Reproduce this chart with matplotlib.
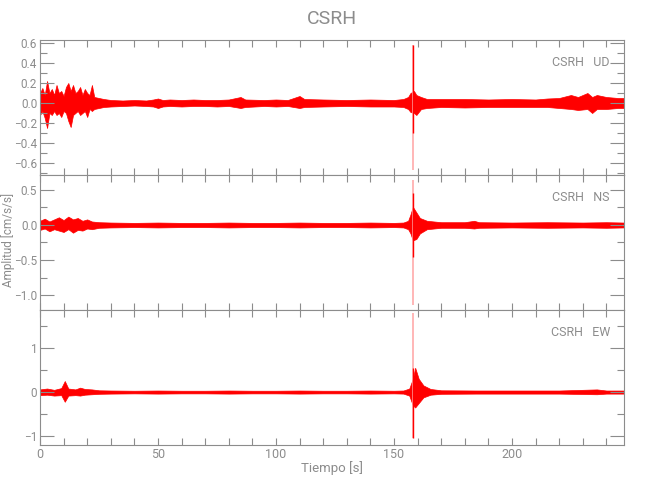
import matplotlib
matplotlib.use('Agg')
import matplotlib.pyplot as plt
from matplotlib.ticker import MultipleLocator, FuncFormatter

plt.rcParams['font.family'] = ['Roboto', 'DejaVu Sans']

GRIS = '#8c8c8c'
ROJO = '#ff0000'
ROSA = '#ffaaaa'

estacion = 'CSRH'
componentes = ['UD', 'NS', 'EW']
t_max = 247.5

t_ud = [0, 1, 2, 3, 4, 5, 6, 7, 8, 9, 10, 11, 12, 13, 14, 15, 16, 17, 18, 19, 20, 21, 22, 23, 25, 27,
        30, 35, 40, 45, 48, 50, 52, 55, 60, 65, 70, 75, 80, 85, 87, 95, 100, 105, 110, 112, 120, 130,
        140, 150, 154, 156, 157, 158.5, 159.5, 161.5, 164, 170, 180, 190, 200, 210, 215, 220, 225, 228,
        232, 234, 236, 240, 245, 247.5]
max_ud = [0.10, 0.15, 0.08, 0.22, 0.10, 0.14, 0.08, 0.18, 0.10, 0.12, 0.07, 0.16, 0.20, 0.12, 0.18,
          0.10, 0.12, 0.16, 0.08, 0.14, 0.10, 0.08, 0.18, 0.06, 0.05, 0.04, 0.03, 0.025, 0.03, 0.025,
          0.035, 0.045, 0.03, 0.035, 0.03, 0.035, 0.03, 0.03, 0.035, 0.06, 0.035, 0.03, 0.035, 0.03,
          0.07, 0.04, 0.035, 0.03, 0.035, 0.03, 0.04, 0.06, 0.10, 0.12, 0.08, 0.06, 0.04, 0.04, 0.04,
          0.035, 0.04, 0.035, 0.045, 0.05, 0.08, 0.06, 0.10, 0.06, 0.08, 0.06, 0.05, 0.05]
min_ud = [-0.12, -0.08, -0.15, -0.25, -0.10, -0.12, -0.08, -0.12, -0.10, -0.14, -0.08, -0.10, -0.18,
          -0.24, -0.12, -0.10, -0.08, -0.12, -0.10, -0.08, -0.14, -0.06, -0.08, -0.06, -0.05, -0.04,
          -0.035, -0.03, -0.025, -0.03, -0.035, -0.05, -0.035, -0.03, -0.035, -0.03, -0.03, -0.035,
          -0.03, -0.05, -0.04, -0.03, -0.035, -0.03, -0.05, -0.04, -0.035, -0.03, -0.035, -0.035,
          -0.04, -0.06, -0.09, -0.10, -0.12, -0.06, -0.05, -0.04, -0.045, -0.04, -0.04, -0.04, -0.04,
          -0.05, -0.06, -0.07, -0.06, -0.10, -0.06, -0.06, -0.05, -0.05]

t_ns = [0, 2, 4, 6, 8, 10, 12, 14, 16, 18, 20, 22, 25, 30, 40, 50, 60, 70, 80, 90, 100, 110, 120,
        130, 140, 150, 154, 156, 157, 158, 159.5, 161, 164, 170, 180, 184, 186, 200, 215, 230,
        240, 247.5]
max_ns = [0.06, 0.09, 0.05, 0.08, 0.11, 0.07, 0.12, 0.08, 0.10, 0.06, 0.08, 0.05, 0.04, 0.035, 0.03,
          0.035, 0.03, 0.03, 0.035, 0.03, 0.03, 0.035, 0.03, 0.03, 0.035, 0.03, 0.035, 0.06, 0.15,
          0.26, 0.18, 0.10, 0.06, 0.04, 0.04, 0.06, 0.04, 0.035, 0.04, 0.035, 0.04, 0.035]
min_ns = [-0.07, -0.05, -0.09, -0.06, -0.08, -0.10, -0.06, -0.11, -0.07, -0.08, -0.05, -0.06, -0.04,
          -0.035, -0.03, -0.035, -0.03, -0.03, -0.035, -0.03, -0.03, -0.035, -0.03, -0.03, -0.035,
          -0.03, -0.035, -0.06, -0.12, -0.22, -0.20, -0.12, -0.06, -0.04, -0.04, -0.05, -0.04,
          -0.035, -0.04, -0.035, -0.04, -0.035]

t_ew = [0, 3, 6, 9, 10.5, 12, 15, 17, 19, 22, 25, 30, 40, 50, 60, 70, 80, 90, 100, 110, 120, 130,
        140, 150, 154, 156.5, 158, 159, 160.5, 162.5, 165.5, 170, 185, 200, 220, 236, 240, 247.5]
max_ew = [0.06, 0.08, 0.05, 0.09, 0.25, 0.08, 0.06, 0.10, 0.07, 0.06, 0.04, 0.035, 0.03, 0.035, 0.03,
          0.03, 0.035, 0.03, 0.03, 0.035, 0.03, 0.03, 0.035, 0.03, 0.035, 0.08, 0.30, 0.55, 0.30,
          0.15, 0.07, 0.04, 0.035, 0.035, 0.035, 0.06, 0.035, 0.035]
min_ew = [-0.07, -0.06, -0.08, -0.07, -0.22, -0.08, -0.07, -0.08, -0.06, -0.05, -0.04, -0.035, -0.03,
          -0.035, -0.03, -0.03, -0.035, -0.03, -0.03, -0.035, -0.03, -0.03, -0.035, -0.03, -0.035,
          -0.08, -0.30, -0.35, -0.25, -0.12, -0.06, -0.04, -0.035, -0.035, -0.035, -0.05, -0.035,
          -0.035]

# pico principal (~158 s): parte roja y colas claras
t_pico = 158.1
pico_rojo = [(-0.30, 0.58), (-0.45, 0.45), (-1.05, 0.55)]
pico_rosa = [(-0.67, 0.58), (-1.14, 0.64), (-1.05, 1.80)]

# rangos y ticks de cada panel
y_lim = [(-0.72, 0.63), (-1.214, 0.714), (-1.2, 1.86)]
y_mayor = [0.2, 0.5, 1.0]
y_menor = [0.1, 0.25, 0.5]
y_fmt = ['{:.1f}', '{:.1f}', '{:.0f}']

tiempos = [t_ud, t_ns, t_ew]
maximos = [max_ud, max_ns, max_ew]
minimos = [min_ud, min_ns, min_ew]

fig = plt.figure(figsize=(6.5, 5), dpi=100)
izq, ancho = 40 / 650, 584 / 650
alto = 135 / 500
bordes = [40, 175, 310]

for i, comp in enumerate(componentes):
    ax = fig.add_axes([izq, 1 - (bordes[i] + 135) / 500, ancho, alto])
    ax.fill_between(tiempos[i], minimos[i], maximos[i], color=ROJO, lw=0.5, edgecolor=ROJO)
    ax.vlines(t_pico, pico_rosa[i][0], pico_rosa[i][1], color=ROSA, lw=1.2)
    ax.vlines(t_pico, pico_rojo[i][0], pico_rojo[i][1], color=ROJO, lw=1.0)

    ax.set_xlim(0, t_max)
    ax.set_ylim(*y_lim[i])
    ax.xaxis.set_major_locator(MultipleLocator(50))
    ax.xaxis.set_minor_locator(MultipleLocator(10))
    ax.yaxis.set_major_locator(MultipleLocator(y_mayor[i]))
    ax.yaxis.set_minor_locator(MultipleLocator(y_menor[i]))
    fmt = y_fmt[i]
    ax.yaxis.set_major_formatter(FuncFormatter(lambda v, p, f=fmt: f.format(v).replace('-', '\u2212')))

    for s in ax.spines.values():
        s.set_color(GRIS)
        s.set_linewidth(0.8)
    ax.tick_params(which='both', direction='in', top=True, right=True, colors=GRIS,
                   labelcolor=GRIS, labelsize=8.5, width=0.8, pad=2)
    ax.tick_params(axis='y', which='major', length=10)
    ax.tick_params(axis='y', which='minor', length=5)
    ax.tick_params(axis='x', which='both', length=5)
    ax.tick_params(axis='x', labelsize=9)
    if i < 2:
        ax.tick_params(axis='x', labelbottom=False)

    ax.text(0.976, 0.837, estacion + '   ' + comp, transform=ax.transAxes, ha='right', va='center',
            color=GRIS, fontsize=9)

fig.text(0.511, 0.963, estacion, ha='center', va='center', color=GRIS, fontsize=14)
fig.text(0.511, 0.064, 'Tiempo [s]', ha='center', va='center', color=GRIS, fontsize=9.5)
fig.text(0.012, 0.52, 'Amplitud [cm/s/s]', ha='center', va='center', rotation=90, color=GRIS,
         fontsize=8.5)

fig.savefig('out.png', dpi=100)
